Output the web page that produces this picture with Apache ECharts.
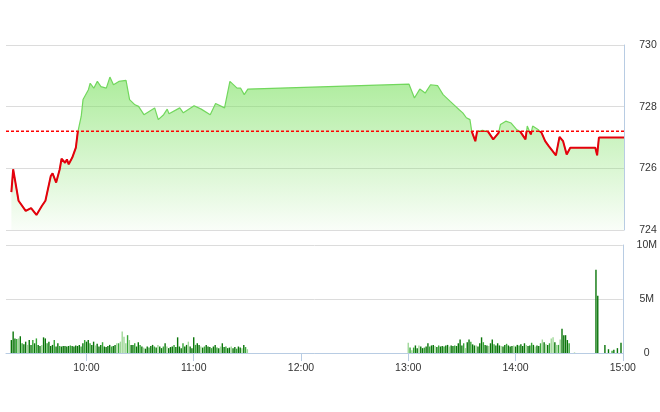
<!DOCTYPE html>
<html>
<head>
<meta charset="utf-8">
<script src="https://cdn.jsdelivr.net/npm/echarts@6/dist/echarts.min.js"></script>
<style>
html,body{margin:0;padding:0;background:#fff;}
#chart{width:660px;height:412px;}
</style>
</head>
<body>
<div id="chart"></div>
<script>
// ---- data ----
const refPrice = 727.2;

const priceTimes = ['09:18','09:19','09:22','09:26','09:29','09:32','09:35','09:37','09:40','09:41',
  '09:43','09:45','09:46','09:48','09:49','09:50','09:52','09:54','09:55','09:57',
  '09:58','10:01','10:02','10:04','10:06','10:08','10:11','10:13','10:15','10:18',
  '10:22','10:24','10:27','10:29','10:32','10:38','10:40','10:43','10:45','10:46',
  '10:52','10:54','11:00','11:04','11:09','11:12','11:17','11:20','11:24','11:26',
  '11:28','11:30',
  '13:00','13:03','13:06','13:09','13:12','13:16','13:19','13:23','13:26','13:28',
  '13:30','13:32','13:34','13:35','13:37','13:38','13:41','13:44','13:47','13:50',
  '13:51','13:54','13:57','14:00','14:02','14:05','14:06','14:08','14:09','14:12',
  '14:14','14:16','14:18','14:22','14:24','14:26','14:28','14:30','14:44','14:45',
  '14:46','15:00'];
const priceValues = [725.23,725.97,724.95,724.62,724.71,724.49,724.78,724.95,725.75,725.84,
  725.54,725.97,726.31,726.18,726.29,726.13,726.35,726.67,727.15,727.69,
  728.23,728.55,728.76,728.60,728.82,728.65,728.60,728.96,728.71,728.82,
  728.85,728.23,728.06,728.01,727.74,727.96,727.58,727.74,727.92,727.77,
  727.96,727.80,728.03,727.92,727.74,728.10,727.96,728.82,728.60,728.60,
  728.39,728.57,
  728.73,728.28,728.57,728.44,728.71,728.68,728.39,728.17,728.01,727.90,
  727.80,727.64,727.58,727.20,726.88,727.20,727.23,727.20,726.94,727.15,
  727.42,727.53,727.47,727.26,727.20,726.94,727.37,727.10,727.37,727.26,
  727.15,726.88,726.72,726.42,727.02,726.88,726.45,726.67,726.67,726.42,
  727.00,727.00];

// volume (millions), one bar per minute
const volMorningStart = '09:18';
const volMorning = [
  1.2,2.0,1.35,1.3,1.35,1.55,0.9,0.8,1.05,0.75,
  1.2,0.75,1.2,0.9,1.35,0.75,0.65,0.75,1.45,1.35,
  0.9,1.05,0.65,0.75,1.2,0.6,0.9,0.65,0.6,0.65,
  0.65,0.6,0.65,0.7,0.65,0.6,0.7,0.65,0.75,0.6,
  0.9,1.2,1.05,1.2,0.9,0.75,1.05,0.7,0.85,0.6,
  0.75,1.0,0.6,0.55,0.65,0.75,0.6,0.65,0.75,0.9,
  0.9,1.05,2.0,1.5,0.9,1.65,1.2,0.75,0.75,0.9,
  0.6,1.0,0.75,0.6,0.5,0.4,0.6,0.5,0.65,0.75,
  0.6,0.5,0.75,0.6,0.45,0.6,0.9,0.6,0.45,0.55,
  0.6,0.75,0.55,1.45,0.6,0.45,0.9,0.6,0.75,1.05,
  0.6,0.45,1.45,0.75,0.9,0.75,0.6,0.5,0.6,0.75,
  0.6,0.55,0.45,0.6,0.75,0.5,0.45,0.6,0.9,0.55,
  0.6,0.45,0.5,0.6,0.45,0.55,0.4,0.6,0.5,0.45,
  0.75,0.55,0.35];
const volMorningSide = 'bbbsnbsbbn' + 'bbsbsbbnbb' + 'sbbbsbbsbb' + 'bbbsbbbbbs' + 'bsbbsbbnbb' +
  'bsbbbbsbbn' + 'snnnnsnbbs' + 'bbsbnbbsbb' + 'sbnbbsbnbb' + 'bsbbbbsbbn' +
  'bbbsbbnbsb' + 'bbsbbsbnbb' + 'sbbnbbsbbn' + 'bsn';

const volAfternoonStart = '13:00';
const volAfternoon = [
  0.95,0.5,0.25,0.5,0.7,0.45,0.7,0.6,0.45,0.5,
  0.6,0.9,0.6,0.7,0.75,0.65,0.55,0.7,0.6,0.65,
  0.6,0.7,0.75,0.6,0.7,0.65,0.7,0.65,0.9,1.25,
  0.7,0.9,0.45,1.0,1.25,1.05,0.8,0.7,0.7,0.6,
  0.9,1.45,1.0,0.75,0.7,0.65,0.9,1.25,0.8,0.7,
  0.9,0.7,0.65,0.6,0.75,0.85,0.7,0.6,0.65,0.7,
  0.6,0.75,0.7,0.8,0.65,0.9,0.75,0.65,0.7,0.95,
  0.75,0.6,0.7,0.65,0.9,1.25,1.0,0.8,0.75,0.9,
  1.35,1.45,1.0,0.75,0.75,1.25,2.25,1.65,1.65,1.2,0.9];
const volAfternoonSide = 'nsnsbbnbbs' + 'bbsbbnbsbb' + 'sbbnbbsbbb' + 'bsnbbsbbnb' + 'bbsbbnbbsb' +
  'bbnbbsbbbn' + 'bbsbbbnbbs' + 'bnbbsnbnbs' + 'nnbnsnbbbbs';

const volLateTimes = ['14:33','14:45','14:46','14:50','14:52','14:54','14:55','14:57','14:59'];
const volLate = [0.05,7.7,5.3,0.75,0.35,0.2,0.3,0.45,0.95];
const volLateSide = 'nbbbbsbbb';

const timeTicks = ['10:00','11:00','12:00','13:00','14:00','15:00'];
const sessionStart = '09:15', sessionEnd = '15:00';

// ---- helpers ----
function toMin(s){ const p = s.split(':'); return (+p[0])*60 + (+p[1]); }
function fmtMin(m){ const h = Math.floor(m/60), mm = Math.round(m%60); return (h<10?'0':'')+h+':'+(mm<10?'0':'')+mm; }
const sideColor = { b:'#097509', s:'#36a636', n:'#a0d899' };

const priceData = priceTimes.map((t,i)=>[toMin(t), priceValues[i]]);

const volData = [];
function addRun(start, vals, sides){
  const s0 = toMin(start);
  vals.forEach((v,i)=>{ volData.push({ value:[s0+i, v*1e6], itemStyle:{ color: sideColor[sides[i]] || sideColor.b } }); });
}
addRun(volMorningStart, volMorning, volMorningSide);
addRun(volAfternoonStart, volAfternoon, volAfternoonSide);
volLateTimes.forEach((t,i)=>{ volData.push({ value:[toMin(t), volLate[i]*1e6], itemStyle:{ color: sideColor[volLateSide[i]] } }); });

const tickVals = timeTicks.map(toMin);
const xMin = toMin(sessionStart), xMax = toMin(sessionEnd);
const refData = [[xMin, refPrice], [xMax, refPrice]];

const fontFam = '"Liberation Sans", Arial, sans-serif';
const axisBlue = '#b8cce3';
const gridGray = '#dcdcdc';
const refRed = '#ff0000';

const chart = echarts.init(document.getElementById('chart'), null, { renderer:'canvas' });
chart.setOption({
  animation: false,
  backgroundColor: '#fff',
  grid: [
    { left: 6, right: 36, top: 45, height: 185 },
    { left: 6, right: 36, top: 245, height: 108 }
  ],
  xAxis: [
    { type:'value', gridIndex:0, min:xMin, max:xMax, show:false },
    { type:'value', gridIndex:1, min:xMin, max:xMax,
      axisLine:{ show:true, lineStyle:{ color:axisBlue, width:1 } },
      axisTick:{ show:true, customValues: tickVals, length:8, lineStyle:{ color:axisBlue } },
      axisLabel:{ show:true, customValues: tickVals, formatter: v=>fmtMin(v), color:'#333', fontSize:10.5, fontFamily:fontFam, margin:10 },
      splitLine:{ show:false } }
  ],
  yAxis: [
    { type:'value', gridIndex:0, position:'right', min:724, max:730, interval:2,
      axisLine:{ show:true, lineStyle:{ color:axisBlue } },
      axisTick:{ show:false },
      axisLabel:{ color:'#333', fontSize:10.5, fontFamily:fontFam, align:'center', margin:24 },
      splitLine:{ show:true, lineStyle:{ color:gridGray, width:1 } } },
    { type:'value', gridIndex:1, position:'right', min:0, max:1e7, interval:5e6,
      axisLine:{ show:true, lineStyle:{ color:axisBlue } },
      axisTick:{ show:false },
      axisLabel:{ color:'#333', fontSize:10.5, fontFamily:fontFam, align:'center', margin:24,
        formatter: v => v===0 ? '0' : (v/1e6)+'M' },
      splitLine:{ show:true, lineStyle:{ color:gridGray, width:1 } } }
  ],
  visualMap: [{
    type:'piecewise', show:false, dimension:1, seriesIndex:1,
    pieces:[
      { min: 700, max: refPrice, color:'#e5000d' },
      { gt: refPrice, max: 760, color:'rgba(255,255,255,0)' }
    ]
  }],
  series: [
    { type:'line', xAxisIndex:0, yAxisIndex:0, data: priceData, symbol:'none',
      lineStyle:{ color:'#72d75d', width:1.2 },
      itemStyle:{ color:'#72d75d' },
      areaStyle:{ origin:'start', color: new echarts.graphic.LinearGradient(0,0,0,1,[
        { offset:0, color:'rgba(125,225,98,0.9)' },
        { offset:1, color:'rgba(125,225,98,0.06)' }
      ]) },
      z:2 },
    { type:'line', xAxisIndex:0, yAxisIndex:0, data: priceData, symbol:'none',
      lineStyle:{ width:2 }, z:3 },
    { type:'bar', xAxisIndex:1, yAxisIndex:1, data: volData, barWidth:1.4 },
    { type:'line', xAxisIndex:0, yAxisIndex:0, data: refData, symbol:'none', silent:true,
      lineStyle:{ color: refRed, type:[3,2], width:1.5 }, itemStyle:{ color: refRed }, z:4 }
  ]
});
</script>
</body>
</html>
